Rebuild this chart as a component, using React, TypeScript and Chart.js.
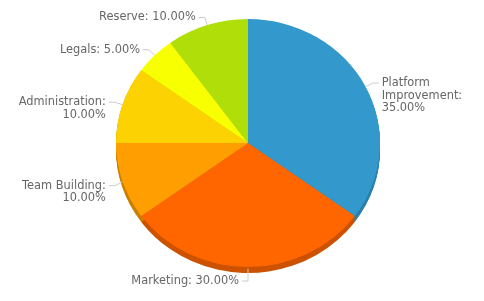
import React, { useEffect, useRef } from "react";
import { Chart, registerables } from "chart.js";

Chart.register(...registerables);

const categories = ["Platform Improvement", "Marketing", "Team Building", "Administration", "Legals", "Reserve"];
const values = [35, 30, 10, 10, 5, 10];
const labelLines = [
  ["Platform", "Improvement:", "35.00%"],
  ["Marketing: 30.00%"],
  ["Team Building:", "10.00%"],
  ["Administration:", "10.00%"],
  ["Legals: 5.00%"],
  ["Reserve: 10.00%"],
];
const colors = ["#3399CC", "#FF6600", "#FF9E01", "#FCD202", "#F8FF01", "#B0DE09"];
const sideColors = ["#2B7FAA", "#CC5200", "#CC7E01", "#C9A802", "#C6CC01", "#8DB207"];

const DEPTH = 6;
const SCALE_Y = 124 / 132;

const pie3d = {
  id: "pie3d",
  beforeDatasetsDraw(chart: any) {
    const ctx = chart.ctx;
    const meta = chart.getDatasetMeta(0);
    ctx.save();
    meta.data.forEach((arc: any, i: number) => {
      const { x, y, outerRadius, startAngle, endAngle } = arc.getProps(["x", "y", "outerRadius", "startAngle", "endAngle"], true);
      for (let k = DEPTH; k >= 1; k--) {
        ctx.beginPath();
        ctx.moveTo(x, y + k);
        ctx.ellipse(x, y + k, outerRadius, outerRadius * SCALE_Y, 0, startAngle, endAngle);
        ctx.closePath();
        ctx.fillStyle = sideColors[i];
        ctx.fill();
      }
    });
    ctx.restore();
    const a = meta.data[0];
    ctx.save();
    ctx.translate(a.x, a.y);
    ctx.scale(1, SCALE_Y);
    ctx.translate(-a.x, -a.y);
  },
  afterDatasetsDraw(chart: any) {
    const ctx = chart.ctx;
    ctx.restore();
    const meta = chart.getDatasetMeta(0);
    ctx.save();
    ctx.font = "11.4px 'DejaVu Sans', Verdana, sans-serif";
    ctx.fillStyle = "#666666";
    ctx.textBaseline = "middle";
    meta.data.forEach((arc: any, i: number) => {
      const { x, y, outerRadius, startAngle, endAngle } = arc.getProps(["x", "y", "outerRadius", "startAngle", "endAngle"], true);
      const mid = (startAngle + endAngle) / 2;
      const c = Math.cos(mid);
      const s = Math.sin(mid);
      const rx = outerRadius;
      const ry = outerRadius * SCALE_Y;
      const extra = s > 0 ? DEPTH * s : 0;
      const sx = x + rx * c;
      const sy = y + ry * s + (s > 0 ? extra * 0.3 : 0);
      const ax = x + (rx + 8) * c;
      const ay = y + (ry + 8) * s + extra;
      const dir = c > 0.05 ? 1 : -1;
      const hx = ax + dir * 6;
      ctx.beginPath();
      ctx.moveTo(sx, sy);
      ctx.lineTo(ax, ay);
      ctx.lineTo(hx, ay);
      ctx.strokeStyle = "#CCCCCC";
      ctx.lineWidth = 1;
      ctx.stroke();
      ctx.textAlign = dir > 0 ? "left" : "right";
      const tx = hx + dir * 3;
      labelLines[i].forEach((line, j) => {
        ctx.fillText(line, tx, ay + j * 12.5);
      });
    });
    ctx.restore();
  },
};

export default function App() {
  const ref = useRef<HTMLCanvasElement | null>(null);
  useEffect(() => {
    document.body.style.margin = "0";
    const chart = new Chart(ref.current as HTMLCanvasElement, {
      type: "pie",
      data: {
        labels: categories,
        datasets: [
          {
            data: values,
            backgroundColor: colors,
            borderWidth: 0,
            clip: false as any,
          },
        ],
      },
      options: {
        animation: false,
        responsive: false,
        layout: { padding: { left: 116, right: 104, top: 11, bottom: 26 } },
        plugins: {
          legend: { display: false },
          tooltip: { enabled: false },
        },
      },
      plugins: [pie3d],
    });
    return () => chart.destroy();
  }, []);
  return (
    <div style={{ width: 484, height: 301 }}>
      <canvas ref={ref} width={484} height={301} style={{ width: 484, height: 301, display: "block" }} />
    </div>
  );
}
